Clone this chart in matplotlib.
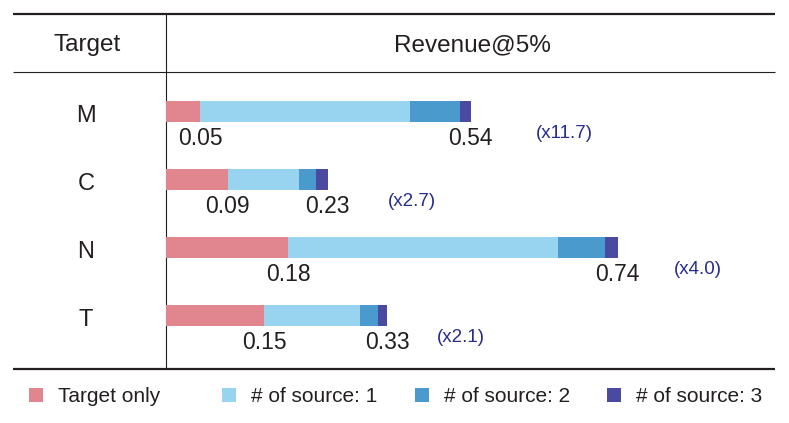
import matplotlib
matplotlib.use("Agg")
import matplotlib.pyplot as plt
from matplotlib.patches import Rectangle

plt.rcParams['font.family'] = ['Liberation Sans', 'DejaVu Sans']

# ---- data ----
targets = ["M", "C", "N", "T"]
series_names = ["Target only", "# of source: 1", "# of source: 2", "# of source: 3"]
target_only = [0.053, 0.095, 0.188, 0.151]
source1 = [0.322, 0.109, 0.415, 0.147]
source2 = [0.077, 0.027, 0.073, 0.028]
source3 = [0.017, 0.018, 0.019, 0.014]
base_labels = ["0.05", "0.09", "0.18", "0.15"]
total_labels = ["0.54", "0.23", "0.74", "0.33"]
multipliers = ["(x11.7)", "(x2.7)", "(x4.0)", "(x2.1)"]
header_left = "Target"
header_right = "Revenue@5%"

colors = ["#E1858F", "#98D4EF", "#4A9ACD", "#4A4BA0"]
text_c = "#231f20"
mult_c = "#262c8c"

W, H = 789, 423
fig = plt.figure(figsize=(W / 100, H / 100), dpi=100)

# overlay axes in pixel coordinates for table rules, headers and legend
ov = fig.add_axes([0, 0, 1, 1])
ov.set_xlim(0, W)
ov.set_ylim(H, 0)
ov.axis("off")

line_c = "#231f20"
ov.plot([13, 775], [14, 14], color=line_c, lw=1.6, solid_capstyle="butt")
ov.plot([13, 775], [72, 72], color=line_c, lw=0.8, solid_capstyle="butt")
ov.plot([13, 775], [369, 369], color=line_c, lw=1.6, solid_capstyle="butt")
ov.plot([166, 166], [14, 369], color=line_c, lw=0.8, solid_capstyle="butt")

ov.text(87, 45, header_left, ha="center", va="center", fontsize=17.5, color=text_c)
ov.text(472, 45, header_right, ha="center", va="center", fontsize=17.5, color=text_c)

# legend
leg_x = [29, 222, 415, 607]
for x0, name, c in zip(leg_x, series_names, colors):
    ov.add_patch(Rectangle((x0, 388), 14, 14, facecolor=c, edgecolor="none"))
    ov.text(x0 + 29, 396, name, ha="left", va="center", fontsize=15, color=text_c)

# main bar axes
left, right, top, bottom = 166, 775, 72, 369
ax = fig.add_axes([left / W, (H - bottom) / H, (right - left) / W, (bottom - top) / H])
ax.patch.set_alpha(0)
px_per_unit = 650.0
ax.set_xlim(0, (right - left) / px_per_unit)
spacing = 68.0
c0 = (111.5 - top) / spacing
ax.set_ylim((bottom - top) / spacing - c0, -c0)
ax.axis("off")

ys = list(range(len(targets)))
bar_h = 21.5 / spacing
lefts = [0.0] * len(targets)
for vals, c in zip([target_only, source1, source2, source3], colors):
    ax.barh(ys, vals, left=lefts, height=bar_h, color=c, edgecolor="none")
    lefts = [l + v for l, v in zip(lefts, vals)]

mult_off = [65, 60, 56, 50]
for i, y in enumerate(ys):
    ov.text(86, 111.5 + i * spacing + 4, targets[i], ha="center", va="center",
            fontsize=17, color=text_c)
    ax.annotate(base_labels[i], (target_only[i], y), xytext=(0, -27),
                textcoords="offset pixels", ha="center", va="center",
                fontsize=16.5, color=text_c, annotation_clip=False)
    ax.annotate(total_labels[i], (lefts[i], y), xytext=(0, -27),
                textcoords="offset pixels", ha="center", va="center",
                fontsize=16.5, color=text_c, annotation_clip=False)
    ax.annotate(multipliers[i], (lefts[i], y), xytext=(mult_off[i], -22),
                textcoords="offset pixels", ha="left", va="center",
                fontsize=13.5, color=mult_c, annotation_clip=False)

fig.savefig("out.png", dpi=100)
